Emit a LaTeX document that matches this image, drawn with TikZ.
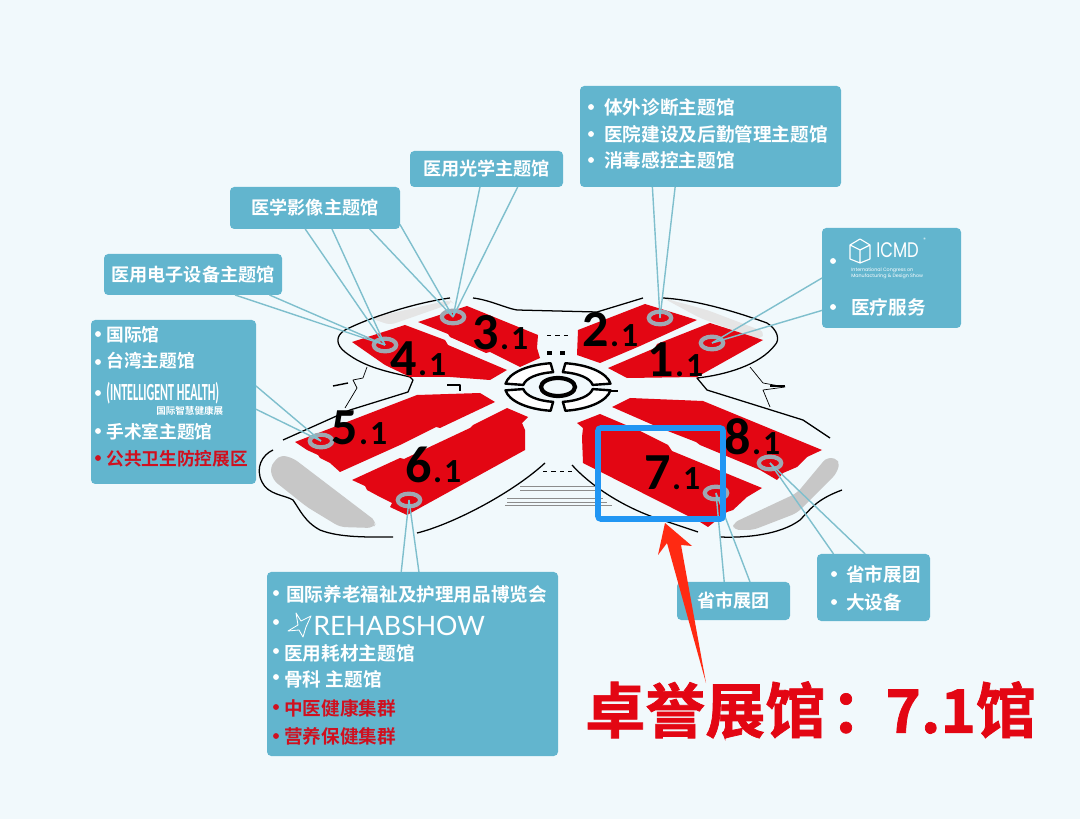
\documentclass[tikz,border=0pt]{standalone}
\usepackage{fontspec}
\setmainfont{Noto Sans CJK SC}[BoldFont={Noto Sans CJK SC Bold}]
\newfontfamily\numfont{Carlito}[BoldFont={Carlito Bold}]
\newfontfamily\logofont{Poppins}
\newfontfamily\rehabfont{Lato}
\newfontfamily\titlefont{Noto Sans CJK SC Bold}[FakeBold=1.2]
\usetikzlibrary{shapes.geometric,calc}
\definecolor{paper}{HTML}{F1F9FC}
\definecolor{panelblue}{HTML}{62B5CE}
\definecolor{hallred}{HTML}{E30613}
\definecolor{itemred}{HTML}{D0101F}
\definecolor{leadblue}{HTML}{7FBFCD}
\definecolor{spotgrey}{HTML}{9FA8B2}
\definecolor{markblue}{HTML}{2196F3}
\definecolor{arrowred}{HTML}{FF2A12}
\newcommand{\hallno}[1]{{\numfont\bfseries\fontsize{37}{37}\selectfont #1\fontsize{24}{24}\selectfont\kern1pt.\kern1.5pt 1}}
\newcommand{\gatepart}[1]{\draw[gate] (558,387) ++(#1+8:53 and 24) arc[start angle=#1+8,delta angle=74,x radius=53,y radius=24] -- ($(558,387)+(#1+82:35 and 15)$) arc[start angle=#1+82,delta angle=-74,x radius=35,y radius=15] -- cycle;}
\begin{document}
\begin{tikzpicture}[x=0.025cm,y=-0.025cm,
  panel/.style 2 args={draw=none,fill=panelblue,rounded corners=3pt,outer sep=0pt,inner sep=0pt,minimum width=#1*0.025cm,minimum height=#2*0.025cm,text=white,font=\fontsize{12.9}{15}\selectfont\bfseries},
  item/.style={anchor=west,inner sep=0pt,text=white,font=\fontsize{13.25}{15}\selectfont\bfseries},
  reditem/.style={item,text=itemred},
  leftitem/.style={item,font=\fontsize{12.6}{15}\selectfont\bfseries},
  dot/.style={circle,fill=white,inner sep=0pt,minimum size=4.2pt},
  reddot/.style={dot,fill=itemred},
  hall/.style={fill=hallred,draw=none},
  outline/.style={draw=black,line width=0.9pt,line join=round},
  blob/.style={fill=black!22,draw=none,rounded corners=4pt},
  leader/.style={draw=leadblue,line width=1pt},
  spot/.style={ellipse,draw=spotgrey,fill=hallred,line width=3pt,minimum width=16pt,minimum height=9pt,inner sep=0pt},
  hallno/.style={anchor=base west,inner sep=0pt,text=black},
  gate/.style={draw=black,line width=1.7pt,fill=white,line join=round}]
\useasboundingbox (0,0) rectangle (1080,819);
\fill[paper] (0,0) rectangle (1080,819);
\fill[blob,fill=black!10] (370,318) -- (450,300) -- (453,303) -- (390,325) -- cycle;
\fill[blob,fill=black!10] (663,298) -- (707,310) -- (765,332) -- (760,340) -- (700,318) -- cycle;
\fill[blob] (270,467) -- (280,455) -- (293,458) -- (377,522) -- (373,528) -- (340,527) -- (307,507) -- (273,480) -- cycle;
\fill[blob] (733,523) -- (797,493) -- (827,457) -- (840,460) -- (837,473) -- (797,513) -- (753,530) -- (733,530) -- cycle;
\draw[outline] (450,298) .. controls (420,302) and (375,315) .. (345,330) .. controls (335,336) and (336,345) .. (345,352) .. controls (365,368) and (390,372) .. (410,377) -- (413,380) -- (408,392) -- (350,410) -- (283,440);
\draw[outline] (273,450) .. controls (262,455) and (255,468) .. (262,482) .. controls (268,495) and (285,495) .. (293,500) .. controls (300,510) and (305,522) .. (320,530) .. controls (340,538) and (370,537) .. (393,537);
\draw[outline] (417,533) .. controls (450,525) and (510,495) .. (545,463);
\draw[outline] (473,298) .. controls (490,300) and (505,308) .. (517,310) -- (597,312);
\draw[outline] (597,312) -- (643,298);
\draw[outline] (663,298) .. controls (700,300) and (745,315) .. (767,323) .. controls (778,330) and (780,340) .. (775,345) .. controls (760,365) and (725,375) .. (697,378) -- (707,390) -- (803,420) -- (830,438);
\draw[outline] (572,465) .. controls (590,485) and (620,505) .. (653,517) -- (698,532);
\draw[outline] (720,537) .. controls (745,538) and (780,535) .. (800,520) .. controls (810,510) and (815,500) .. (842,490);
\draw[outline,line width=0.5pt] (367,367) -- (363,378) -- (353,380) -- (357,388) -- (345,408);
\draw[outline,line width=0.5pt] (750,367) -- (763,383) -- (785,387) -- (763,390) -- (770,407);
\draw[outline,line width=1pt] (333,386) -- (348,383);
\draw[outline,line width=1pt] (770,386) -- (785,386);
\draw[outline,line width=1.4pt] (447,385) -- (460,385) -- (460,391);
\draw[outline,line width=1.6pt] (605,391) -- (618,391);
\draw[outline,line width=3pt] (547,353) -- (552,353);
\draw[outline,line width=3pt] (560,353) -- (565,353);
\draw[outline,line width=0.5pt,dashed] (547,335) -- (569,335);
\draw[outline,line width=0.5pt,dashed] (543,471) -- (572,471);
\draw[draw=black!45,line width=0.6pt] (520,486) -- (597,486);
\draw[draw=black!45,line width=0.6pt] (520,490) -- (597,490);
\draw[draw=black!45,line width=0.6pt] (507,498) -- (603,498);
\draw[draw=black!45,line width=0.6pt] (507,502) -- (607,502);
\draw[draw=black!45,line width=0.6pt] (505,505) -- (612,505);
\fill[hall] (418,322) -- (467,306) -- (538,335) -- (537,348) -- (540,358) -- (520,367) -- (490,352) -- (486,353) -- (450,337) -- (448,334) -- cycle;
\fill[hall] (352,342) -- (405,325) -- (445,340) -- (448,345) -- (507,370) -- (490,380) -- (450,377) -- (410,377) -- (385,365) -- cycle;
\fill[hall] (295,442) -- (417,395) -- (480,393) -- (495,402) -- (440,428) -- (436,427) -- (400,445) -- (340,472) -- (330,463) -- (320,458) -- (318,455) -- (307,450) -- cycle;
\fill[hall] (352,480) -- (400,458) -- (404,459) -- (470,428) -- (473,425) -- (507,408) -- (528,417) -- (522,423) -- (525,430) -- (525,450) -- (407,515) -- (390,507) -- (392,503) -- (380,497) -- (367,490) -- (365,486) -- cycle;
\fill[hall] (577,355) -- (578,330) -- (645,304) -- (697,320) -- (640,346) -- (600,363) -- cycle;
\fill[hall] (608,368) -- (655,348) -- (657,344) -- (710,323) -- (763,340) -- (697,377) -- (627,378) -- cycle;
\fill[hall] (612,407) -- (630,398) -- (703,401) -- (822,450) -- (807,457) -- (797,467) -- (783,473) -- (777,480) -- (760,470) -- (700,445) -- (696,442) -- (660,428) -- cycle;
\fill[hall] (577,423) -- (600,414) -- (640,431) -- (668,445) -- (672,451) -- (762,488) -- (747,497) -- (733,510) -- (727,512) -- (708,527) -- (700,522) -- (583,463) -- (582,437) -- (583,428) -- cycle;
\gatepart{0}
\gatepart{90}
\gatepart{180}
\gatepart{270}
\draw[draw=black,line width=3pt] (558,387) ellipse (17 and 9);
\node[spot] (spot31) at (453,317) {};
\node[spot] (spot41) at (385,345) {};
\node[spot] (spot51) at (321,441) {};
\node[spot] (spot61) at (409,500) {};
\node[spot] (spot21) at (660,318) {};
\node[spot] (spot11) at (712,343) {};
\node[spot] (spot81) at (770,463) {};
\node[spot] (spot71) at (716,493) {};
\node[hallno] (no31) at (472,350) {\hallno{3}};
\node[hallno] (no41) at (390,376) {\hallno{4}};
\node[hallno] (no51) at (331,445) {\hallno{5}};
\node[hallno] (no61) at (405,483) {\hallno{6}};
\node[hallno] (no21) at (582,347) {\hallno{2}};
\node[hallno] (no11) at (647,377) {\hallno{1}};
\node[hallno] (no81) at (724,455) {\hallno{8}};
\node[hallno] (no71) at (644,490) {\hallno{7}};
\node[panel={153}{36}] (optics) at (486.5,169) {医用光学主题馆};
\node[panel={170}{42}] (imaging) at (315,208) {医学影像主题馆};
\node[panel={178}{41}] (electro) at (193,274.5) {医用电子设备主题馆};
\node[panel={165}{164}] (leftbox) at (173.5,402) {};
\node[panel={261}{101}] (topbox) at (710.5,136.5) {};
\node[panel={139}{100}] (icmdbox) at (891.5,278) {};
\node[panel={291}{184}] (rehabbox) at (412.5,664) {};
\node[panel={113}{38}] (provleft) at (733.5,601) {省市展团};
\node[panel={113}{67}] (provright) at (873.5,587.5) {};
\draw[leader] (optics.-110) -- (spot31.center);
\draw[leader] (optics.-30) -- (spot31.center);
\draw[leader] (imaging.-115.5) -- (spot41.center);
\draw[leader] (imaging.-51) -- (spot41.center);
\draw[leader] (imaging.-21.6) -- (spot31.center);
\draw[leader] (imaging.-11.3) -- (spot31.center);
\draw[leader] (electro.-15.9) -- (spot41.center);
\draw[leader] (electro.-26) -- (spot41.center);
\draw[leader] (leftbox.11.6) -- (spot51.center);
\draw[leader] (leftbox.-5.5) -- (spot51.center);
\draw[leader] (topbox.-139.7) -- (spot21.center);
\draw[leader] (topbox.-125.1) -- (spot21.center);
\draw[leader] (icmdbox.180) -- (spot11.center);
\draw[leader] (icmdbox.-155.3) -- (spot11.center);
\draw[leader] (rehabbox.97.7) -- (spot61.center);
\draw[leader] (rehabbox.86.6) -- (spot61.center);
\draw[leader] (provleft.116.6) -- (spot71.center);
\draw[leader] (provleft.49) -- (spot71.center);
\draw[leader] (provright.140.4) -- (spot81.center);
\draw[leader] (provright.104.2) -- (spot81.center);
\node[dot] (dtop1) at (591,107) {};
\node[dot] (dtop2) at (591,134) {};
\node[dot] (dtop3) at (591,160) {};
\node[item] (top1) at (604,107) {体外诊断主题馆};
\node[item] (top2) at (604,134) {医院建设及后勤管理主题馆};
\node[item] (top3) at (604,160) {消毒感控主题馆};
\node[dot] (dleft1) at (98,334) {};
\node[dot] (dleft2) at (98,362) {};
\node[dot] (dleft3) at (98,393) {};
\node[dot] (dleft4) at (98,431) {};
\node[reddot] (dleft5) at (98,458) {};
\node[leftitem] (left1) at (106,335) {国际馆};
\node[leftitem] (left2) at (106,361) {台湾主题馆};
\node[item,font=\numfont\bfseries,text height=13pt,text depth=0pt] (left3) at (106,391) {\scalebox{0.86}[1.75]{(INTELLIGENT HEALTH)}};
\node[item,font=\fontsize{6.8}{8}\selectfont\bfseries] (left3b) at (156,411) {国际智慧健康展};
\node[leftitem] (left4) at (106,432) {手术室主题馆};
\node[leftitem,text=itemred] (left5) at (106,459) {公共卫生防控展区};
\node[dot] (dicmd1) at (833,261) {};
\node[dot] (dicmd2) at (833,307) {};
\draw[white,line width=0.8pt,line join=round] (860,239) -- (870,245) -- (870,259) -- (860,263) -- (850,259) -- (850,245) -- cycle (850,245) -- (860,250) -- (870,245) (860,250) -- (860,263);
\node[item,font=\logofont\fontsize{15}{15}\selectfont] (icmd) at (876,250) {\scalebox{0.78}[1]{ICMD}};
\node[item,font=\logofont\fontsize{3.5}{4}\selectfont] (icmd2) at (923,240) {®};
\node[item,font=\logofont\fontsize{3.4}{4.4}\selectfont,align=left] (icmdsub) at (851,273) {International Congress on\\Manufacturing \& Design Show};
\node[item] (icmd3) at (851,307) {医疗服务};
\node[dot] (dreh1) at (276,593) {};
\node[dot] (dreh2) at (276,622) {};
\node[dot] (dreh3) at (276,651) {};
\node[dot] (dreh4) at (276,677) {};
\node[reddot] (dreh5) at (276,707) {};
\node[reddot] (dreh6) at (276,736) {};
\node[item] (reh1) at (286,594) {国际养老福祉及护理用品博览会};
\draw[white,line width=0.6pt,line join=round] (311,616) -- (301,621) -- (296,613) -- (298,625) -- (288,631) -- (299,630) -- (303,637) -- (306,627) -- cycle;
\node[item,anchor=base west,font=\rehabfont\fontsize{19}{20}\selectfont] (reh2) at (313,635) {REHABSHOW};
\node[item] (reh3) at (284,653) {医用耗材主题馆};
\node[item] (reh4) at (284,679) {骨科 主题馆};
\node[reditem] (reh5) at (284,708) {中医健康集群};
\node[reditem] (reh6) at (284,736) {营养保健集群};
\node[dot] (dprov1) at (834,574) {};
\node[dot] (dprov2) at (834,602) {};
\node[item] (prov1) at (846,574) {省市展团};
\node[item] (prov2) at (846,602) {大设备};
\draw[draw=markblue,line width=4pt,rounded corners=2pt] (598,428) rectangle (723,519);
\fill[arrowred] (665,523) -- (692,546) -- (681,545) -- (706,683) -- (667,543) -- (658,555) -- cycle;
\node[anchor=west,inner sep=0pt,text=hallred,font=\titlefont\fontsize{42.7}{50}\selectfont] (title) at (585,710) {卓誉展馆\hspace{4pt}：\hspace{-4pt}7.1馆};
\end{tikzpicture}
\end{document}
